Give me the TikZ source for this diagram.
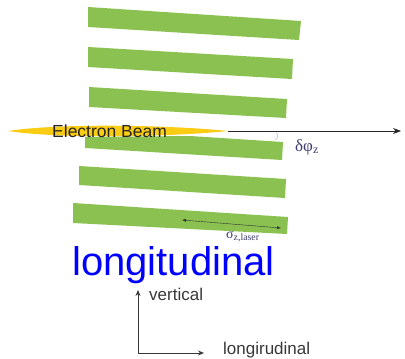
\documentclass[tikz,border=0pt]{standalone}
\usepackage{fontspec}
\setmainfont{Liberation Sans}
\newfontfamily\greekserif{Liberation Serif}
\usetikzlibrary{arrows.meta}
\definecolor{bargreen}{RGB}{139,193,80}
\definecolor{beamyellow}{RGB}{250,204,20}
\definecolor{greeklabel}{RGB}{60,60,110}
\definecolor{axisgray}{RGB}{55,55,55}

\begin{document}
\begin{tikzpicture}[x=1pt, y=-1pt,
    bar/.style={fill=bargreen, draw=none},
    axislabel/.style={text=axisgray, inner sep=0pt, anchor=base west,
      font=\fontsize{17}{17}\selectfont}]
\useasboundingbox (0,0) rectangle (405,359);

% laser bars
\fill[bar] (88,7)--(301,21)--(299,40)--(88,27)--cycle;
\fill[bar] (88,47)--(293,59)--(292,79)--(88,67)--cycle;
\fill[bar] (89,87)--(287,99)--(286,118)--(89,107)--cycle;
\fill[bar] (85,137)--(190,136)--(283,142)--(282,160)--(85,148)--cycle;
\fill[bar] (79,166)--(286,179)--(285,198)--(79,185)--cycle;
\fill[bar] (73,203)--(288,217)--(287,234)--(73,223)--cycle;

% electron beam
\fill[beamyellow] (8,131) .. controls (60,123) and (170,125) .. (228,131)
    .. controls (170,137) and (60,139) .. (8,131);
\coordinate (beam tip) at (228,131);
\coordinate (beam end) at (401,131);
\draw[thick, black!85, -{Stealth[length=8pt,width=6pt]}] (beam tip) -- (beam end);
\node[inner sep=0pt, anchor=base west, text=black!85,
    font=\fontsize{17.5}{17.5}\selectfont] (beam label) at (52,137) {Electron Beam};

% angle
\draw[very thin, gray] (276.5,133) .. controls (278.5,136) .. (275.5,140);
\node[inner sep=0pt, anchor=base west, text=greeklabel,
    font=\fontsize{17}{17}\selectfont] (angle label) at (295,151)
    {\greekserif δφ\textsubscript{z}};

% bunch length
\coordinate (sigma left) at (182,220);
\coordinate (sigma right) at (281,228);
\draw[thin, black!80, {Latex[length=4pt,width=3pt]}-{Latex[length=4pt,width=3pt]}]
    (sigma left) -- (sigma right);
\node[inner sep=0pt, anchor=base west, text=greeklabel,
    font=\fontsize{14}{14}\selectfont] (sigma label) at (226,238)
    {\greekserif σ\textsubscript{z,laser}};

\node[inner sep=0pt, anchor=base west, text=blue,
    font=\fontsize{40}{40}\selectfont] (title) at (72,275) {longitudinal};

% axes
\coordinate (origin) at (138,353);
\coordinate (up) at (138,290);
\coordinate (right) at (204,353);
\draw[thick, axisgray, -{Stealth[length=6pt,width=5pt]}] (origin) -- (up);
\draw[thick, axisgray, -{Stealth[length=6pt,width=5pt]}] (origin) -- (right);
\node[axislabel] (vertical) at (149,300) {vertical};
\node[axislabel] (longitudinal) at (223,354) {longirudinal};
\end{tikzpicture}
\end{document}
